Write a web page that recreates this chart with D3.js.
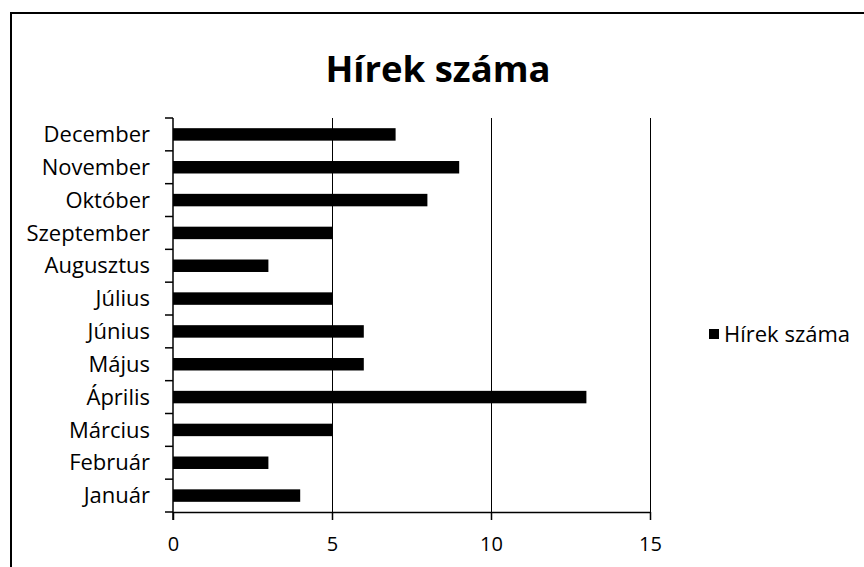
<!DOCTYPE html>
<html>
<head>
<meta charset="utf-8">
<script src="https://cdn.jsdelivr.net/npm/d3@7"></script>
<style>
  body { margin: 0; background: #fff; }
  text { font-family: "Open Sans", Lato, sans-serif; fill: #000; }
</style>
</head>
<body>
<script>
let months = ['Január', 'Február', 'Március', 'Április', 'Május', 'Június',
  'Július', 'Augusztus', 'Szeptember', 'Október', 'November', 'December'];
let counts = [4, 3, 5, 13, 6, 6, 5, 3, 5, 8, 9, 7];
let xTicks = [0, 5, 10, 15];
let title = 'Hírek száma';

let width = 864, height = 567;
let margin = { top: 118, left: 173, right: 214, bottom: 55 };
let plotW = width - margin.left - margin.right;
let plotH = height - margin.top - margin.bottom;

let svg = d3.select('body').append('svg')
    .attr('width', width)
    .attr('height', height);

// frame (only top and left edges visible)
svg.append('path')
    .attr('d', 'M11,' + height + 'V13H' + width)
    .attr('fill', 'none')
    .attr('stroke', '#000')
    .attr('stroke-width', 2);

svg.append('text')
    .attr('x', 438)
    .attr('y', 82)
    .attr('text-anchor', 'middle')
    .style('font-size', '36.5px')
    .style('font-weight', 'bold')
    .text(title);

let g = svg.append('g')
    .attr('transform', 'translate(' + margin.left + ',' + margin.top + ')');

let x = d3.scaleLinear().domain([0, 15]).range([0, plotW]);
let y = d3.scaleBand().domain(months.slice().reverse()).range([0, plotH]).paddingInner(0.62).paddingOuter(0.31);

// gridlines
g.selectAll('.grid').data(xTicks.slice(1)).enter().append('line')
    .attr('class', 'grid')
    .attr('x1', function(d){ return Math.round(x(d)) + 0.5; })
    .attr('x2', function(d){ return Math.round(x(d)) + 0.5; })
    .attr('y1', 0)
    .attr('y2', plotH)
    .attr('stroke', '#000')
    .attr('stroke-width', 1)
    .attr('shape-rendering', 'crispEdges');

// bars
g.selectAll('.bar').data(months).enter().append('rect')
    .attr('class', 'bar')
    .attr('x', x(0))
    .attr('y', function(d){ return y(d); })
    .attr('width', function(d, i){ return x(counts[i]) - x(0); })
    .attr('height', y.bandwidth())
    .attr('fill', '#000');

// x axis
let xAxis = g.append('g')
    .attr('transform', 'translate(0,' + plotH + ')')
    .call(d3.axisBottom(x).tickValues(xTicks).tickSize(8).tickPadding(17).tickSizeOuter(0));
xAxis.select('.domain').attr('stroke-width', 1.5);
xAxis.selectAll('.tick line').attr('stroke-width', 1.5);
xAxis.selectAll('text').style('font-size', '20px').style('font-family', '"Open Sans", sans-serif');

// y axis: ticks sit on band boundaries
let step = plotH / months.length;
let yAxis = g.append('g');
yAxis.append('line')
    .attr('x1', 0).attr('x2', 0).attr('y1', 0).attr('y2', plotH + 8)
    .attr('stroke', '#000').attr('stroke-width', 1.5);
yAxis.selectAll('.ytick').data(d3.range(months.length + 1)).enter().append('line')
    .attr('class', 'ytick')
    .attr('x1', -8).attr('x2', 0)
    .attr('y1', function(d){ return d * step; })
    .attr('y2', function(d){ return d * step; })
    .attr('stroke', '#000').attr('stroke-width', 1.5);
yAxis.selectAll('.ylabel').data(months).enter().append('text')
    .attr('class', 'ylabel')
    .attr('x', -23)
    .attr('y', function(d){ return y(d) + y.bandwidth() / 2; })
    .attr('dy', '0.35em')
    .attr('text-anchor', 'end')
    .style('font-size', '22px')
    .text(function(d){ return d; });

// legend
let legend = svg.append('g').attr('transform', 'translate(709,329)');
legend.append('rect').attr('width', 10).attr('height', 10).attr('fill', '#000');
legend.append('text')
    .attr('x', 15).attr('y', 5).attr('dy', '0.35em')
    .style('font-size', '22px')
    .text(title);
</script>
</body>
</html>
